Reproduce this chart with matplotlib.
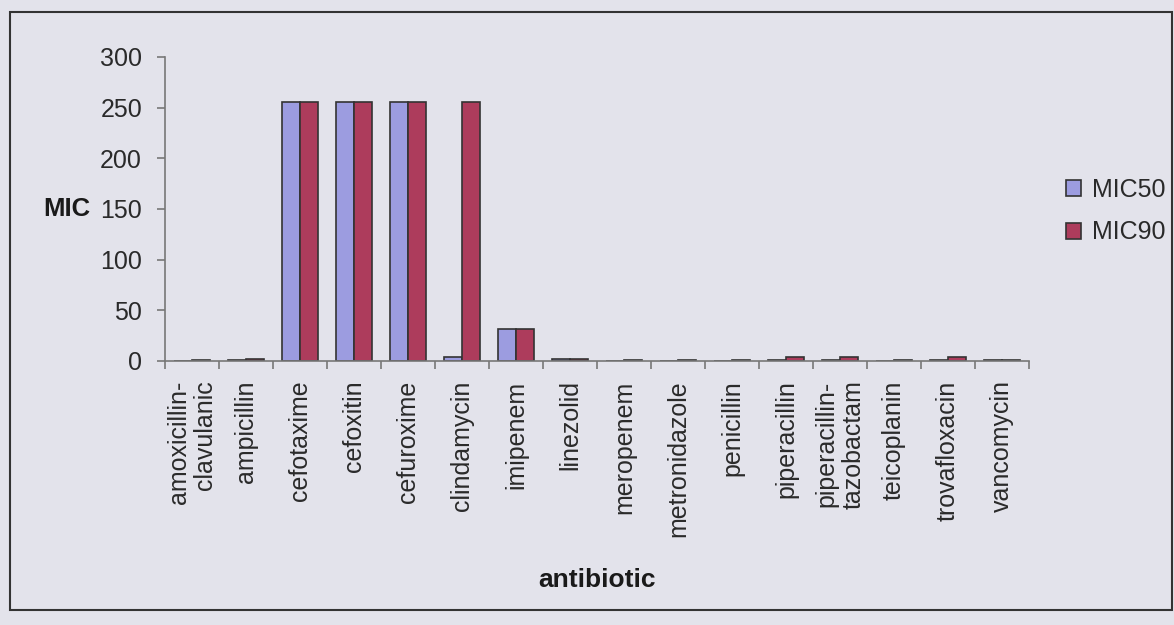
import matplotlib
matplotlib.use("Agg")
import matplotlib.pyplot as plt
import numpy as np
from matplotlib.patches import Rectangle

categories = ["amoxicillin-\nclavulanic", "ampicillin", "cefotaxime", "cefoxitin", "cefuroxime",
              "clindamycin", "imipenem", "linezolid", "meropenem", "metronidazole",
              "penicillin", "piperacillin", "piperacillin-\ntazobactam", "teicoplanin",
              "trovafloxacin", "vancomycin"]
mic50 = [0.25, 0.5, 256, 256, 256, 4, 32, 2, 0.25, 0.25, 0.25, 0.5, 1, 0.25, 1, 0.5]
mic90 = [0.5, 2, 256, 256, 256, 256, 32, 2, 1, 0.5, 1, 4, 4, 0.5, 4, 1]
yticks = [0, 50, 100, 150, 200, 250, 300]

bg = "#e3e3eb"
c50 = "#9c9ce0"
c90 = "#ad3c5c"
FONT = "Liberation Sans"

fig = plt.figure(figsize=(11.74, 6.25), dpi=100, facecolor=bg)
fig.patches.append(Rectangle((10/1174, 1-610/625), (1172-10)/1174, (610-12)/625,
                             transform=fig.transFigure, fill=False, edgecolor="#333333", lw=1.5))
ax = fig.add_axes([165/1174, 1-361/625, (1029-165)/1174, (361-57)/625])
ax.set_facecolor(bg)

x = np.arange(len(categories))
w = 0.33
ax.bar(x - w/2, mic50, w, color=c50, edgecolor="#333333", linewidth=1.2, label="MIC50")
ax.bar(x + w/2, mic90, w, color=c90, edgecolor="#333333", linewidth=1.2, label="MIC90")

ax.set_xlim(-0.5, len(categories) - 0.5)
ax.set_ylim(0, 300)
ax.set_yticks(yticks)
ax.set_yticklabels([str(t) for t in yticks], fontsize=18, family=FONT, color="#2a2a2a")
ax.set_xticks(x)
ax.set_xticklabels(categories, rotation=90, fontsize=18, family=FONT, linespacing=1.15,
                   color="#2a2a2a", va="top", ha="center", multialignment="right")
ax.tick_params(axis="x", length=0, pad=14)
ax.set_xticks(np.arange(len(categories) + 1) - 0.5, minor=True)
ax.tick_params(axis="x", which="minor", length=6, width=1.2, color="#777777", direction="out")
ax.tick_params(axis="y", length=6, width=1.2, color="#777777", direction="out", pad=10.5)
for s in ["top", "right"]:
    ax.spines[s].set_visible(False)
ax.spines["left"].set_color("#777777")
ax.spines["bottom"].set_color("#777777")
ax.spines["left"].set_linewidth(1.2)
ax.spines["bottom"].set_linewidth(1.2)

fig.text(90/1174, 1-209/625, "MIC", fontsize=18.5, fontweight="bold", family=FONT,
         ha="right", va="center", color="#1a1a1a")
fig.text(597/1174, 1-580/625, "antibiotic",
         fontsize=19, fontweight="bold", family=FONT, ha="center", va="center",
         color="#1a1a1a")

leg = fig.legend(loc="center left", bbox_to_anchor=(1066/1174, 1-211/625), frameon=False,
                 prop={"family": FONT, "size": 18}, borderpad=0, borderaxespad=0,
                 handlelength=0.6, handleheight=0.6, handletextpad=0.45, labelspacing=0.75)
for t in leg.get_texts():
    t.set_color("#2a2a2a")

fig.savefig("out.png", dpi=100, facecolor=bg)
